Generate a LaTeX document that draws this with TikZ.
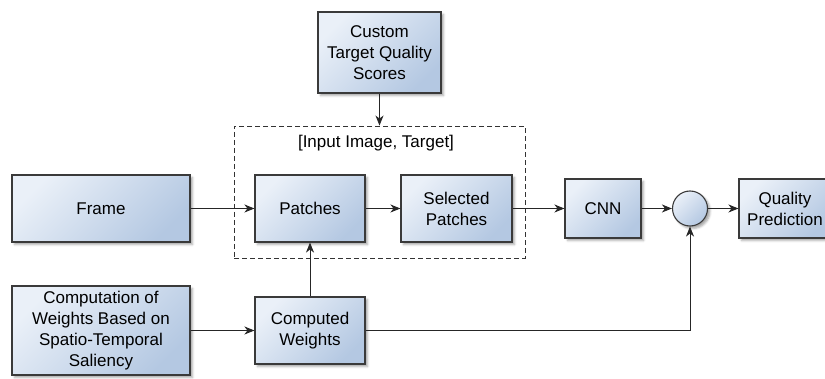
\documentclass[tikz,border=0pt]{standalone}
\usepackage{fontspec}
\setmainfont{Liberation Sans}
\usetikzlibrary{arrows.meta,shadows.blur,positioning}
\definecolor{boxlight}{HTML}{EAF0F8}
\definecolor{boxdark}{HTML}{B4C8E2}
\definecolor{boxedge}{HTML}{3A3A3A}
\tikzset{
  blockbox/.style={draw=boxedge, line width=1.1pt, top color=boxlight, bottom color=boxdark, shading angle=45,
    blur shadow={shadow xshift=2.5pt, shadow yshift=-2.5pt, shadow blur steps=4, shadow opacity=35},
    inner sep=0pt, align=center, font=\fontsize{17}{21}\selectfont},
  conn/.style={line width=0.9pt, draw=black!85, -{Stealth[length=10pt,width=8pt,inset=3pt]}},
  groupbox/.style={draw=black!80, line width=0.9pt, dash pattern=on 5pt off 3pt},
}
\begin{document}
\begin{tikzpicture}[x=1pt,y=-1pt]
\useasboundingbox (0,0) rectangle (825,379);
\node[groupbox, minimum width=291pt, minimum height=132pt, inner sep=0pt] (grp) at (379.5,192) {};
\node[font=\fontsize{17}{21}\selectfont] (grplabel) at (376,143) {[Input Image, Target]};
\node[blockbox, minimum width=123pt, minimum height=81pt] (custom) at (379.5,52.5) {Custom\\Target Quality\\Scores};
\node[blockbox, minimum width=178pt, minimum height=67pt] (frame) at (101,208.5) {Frame};
\node[blockbox, minimum width=110pt, minimum height=67pt] (patches) at (310,208.5) {Patches};
\node[blockbox, minimum width=111pt, minimum height=67pt] (sel) at (456.5,208.5) {Selected\\Patches};
\node[blockbox, minimum width=76pt, minimum height=59pt] (cnn) at (603,208.5) {CNN};
\node[blockbox, circle, minimum size=35pt] (mult) at (690,208.5) {};
\node[blockbox, minimum width=92pt, minimum height=59pt] (qp) at (785,208.5) {Quality\\Prediction};
\node[blockbox, minimum width=178pt, minimum height=89pt] (comp) at (101,330.5) {Computation of\\Weights Based on\\Spatio-Temporal\\Saliency};
\node[blockbox, minimum width=110pt, minimum height=67pt] (cw) at (310,330.5) {Computed\\Weights};
\draw[conn] (custom.south) -- (custom.south |- grp.north);
\draw[conn] (frame) -- (patches);
\draw[conn] (patches) -- (sel);
\draw[conn] (sel) -- (cnn);
\draw[conn] (cnn) -- (mult);
\draw[conn] (mult) -- (qp);
\draw[conn] (comp) -- (cw);
\draw[conn] (cw) -- (patches);
\draw[conn] (cw.east) -| (mult.south);
\end{tikzpicture}
\end{document}
